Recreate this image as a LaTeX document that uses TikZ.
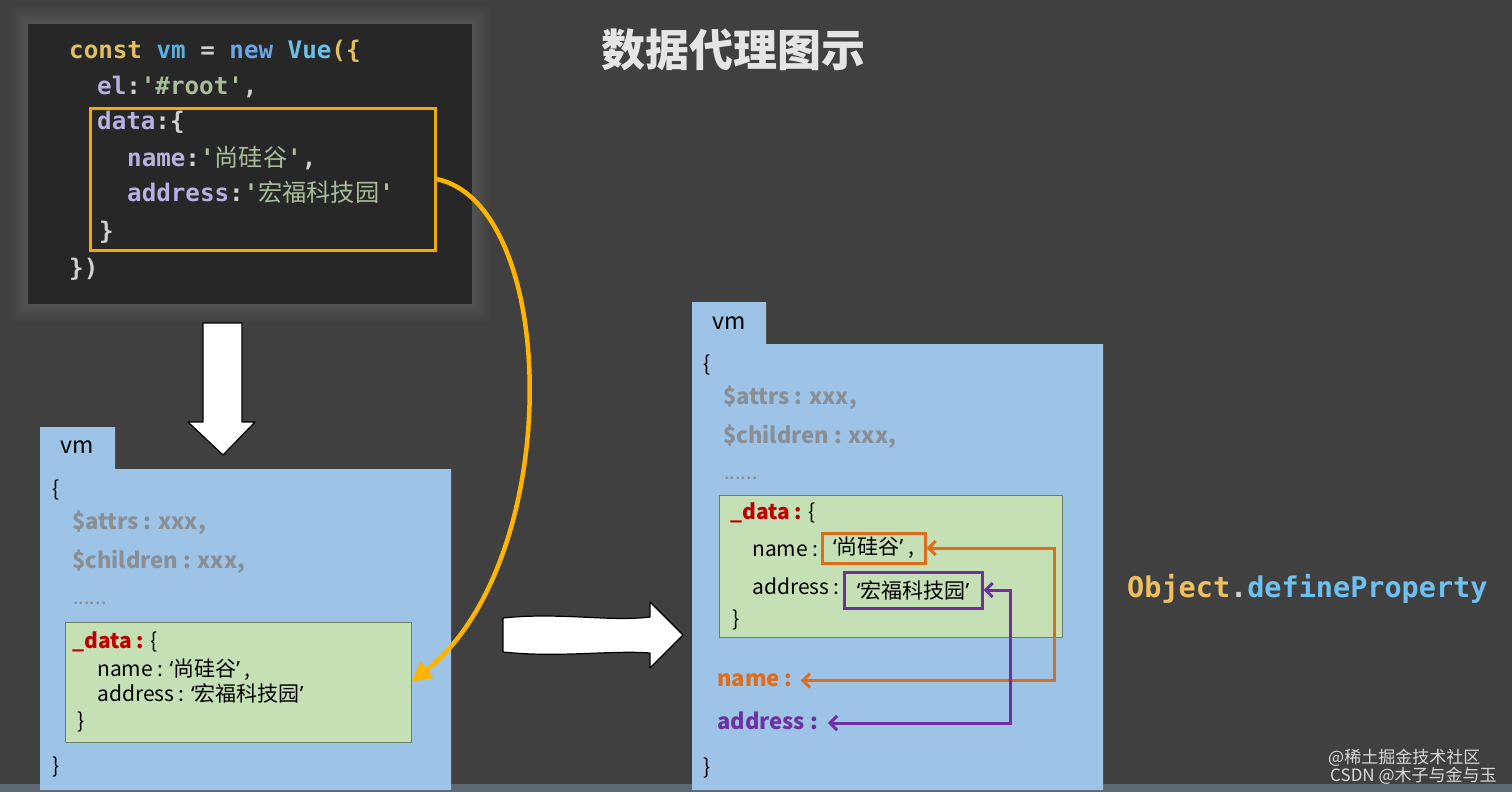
\documentclass[tikz,border=0pt]{standalone}
\usepackage{fontspec}
\setmainfont{Noto Sans CJK SC}
\newfontfamily\cjk{Noto Sans CJK SC}
\newfontfamily\monof{DejaVu Sans Mono}
\newfontfamily\nsans{Noto Sans}
\usetikzlibrary{arrows.meta}
\definecolor{bg}{HTML}{404040}
\definecolor{codebg}{HTML}{272727}
\definecolor{gold}{HTML}{F2A900}
\definecolor{yarrow}{HTML}{FFB400}
\definecolor{boxblue}{HTML}{9DC3E6}
\definecolor{boxgreen}{HTML}{C5E0B4}
\definecolor{greenedge}{HTML}{6F7F6A}
\definecolor{redc}{HTML}{C00000}
\definecolor{grayc}{HTML}{8A8F96}
\definecolor{ora}{HTML}{E06C1A}
\definecolor{pur}{HTML}{7030A0}
\definecolor{kwc}{HTML}{E0C060}
\definecolor{vmc}{HTML}{5BB0E0}
\definecolor{newc}{HTML}{6AA6E6}
\definecolor{vuec}{HTML}{6CC0E8}
\definecolor{opc}{HTML}{D0D0D0}
\definecolor{propc}{HTML}{B8B0E0}
\definecolor{strc}{HTML}{A8BE98}
\definecolor{objc}{HTML}{F0C060}
\definecolor{defc}{HTML}{6EC0F0}
\definecolor{stripc}{HTML}{5D6870}
\newcommand\oq{{\nsans ‘}}
\newcommand\cq{{\nsans ’}}
\begin{document}
\begin{tikzpicture}[x=1pt,y=-1pt,
  txt/.style={anchor=west, inner sep=0pt, text height=0.75em, text depth=0.25em, yshift=-4pt},
  codeline/.style={txt, font=\monof\bfseries\fontsize{24.2}{28}\selectfont},
  body/.style={txt, font=\fontsize{21}{25}\selectfont, text=black},
  vmlab/.style={txt, font=\fontsize{23}{27}\selectfont, text=black},
  graytxt/.style={txt, font=\bfseries\fontsize{22}{26}\selectfont, text=grayc},
  panel/.style={fill=boxblue, draw=none},
  greenbox/.style={fill=boxgreen, draw=greenedge, line width=1pt, inner sep=0pt},
  blockarrow/.style={fill=white, draw=black, line width=1.2pt, line join=round},
  barbs/.style={line width=3pt, arrows={Straight Barb[length=7pt,width=14pt]-Straight Barb[length=7pt,width=14pt]}}
]
\useasboundingbox (0,0) rectangle (1512,792);
\fill[bg] (0,0) rectangle (1512,792);
\fill[stripc] (0,784) rectangle (1512,792);

% soft glow around code box
\foreach \d in {1,...,18}
  \fill[white,opacity=0.006] (28-\d,24-\d) rectangle (472+\d,304+\d);
\node[fill=codebg, minimum width=444pt, minimum height=280pt, inner sep=0pt] (code) at (250,164) {};

% code lines
\node[codeline] (l1) at (69,52) {\color{kwc}const \color{vmc}vm \color{opc}= \color{newc}new \color{vuec}Vue\color{kwc}(\{};
\node[codeline] (l2) at (97,88) {\color{propc}el\color{opc}:\color{strc}'\#root'\color{opc},};
\node[codeline] (l3) at (97,123) {\color{propc}data\color{opc}:\{};
\node[codeline] (l4) at (127,160) {\color{propc}name\color{opc}:\color{strc}'{\cjk\mdseries 尚硅谷}'\color{opc},};
\node[codeline] (l5) at (127,195) {\color{propc}address\color{opc}:\color{strc}'{\cjk\mdseries 宏福科技园}'};
\node[codeline] (l6) at (99,233) {\color{opc}\}};
\node[codeline] (l7) at (69,270) {\color{opc}\})};
\node[draw=gold, line width=3pt, minimum width=345pt, minimum height=142pt, inner sep=0pt] (cdata) at (262.5,179) {};

% title
\node[text=white!90!black, font=\bfseries\fontsize{44}{48}\selectfont, inner sep=0pt] (title) at (733,50) {数据代理图示};

% down arrow
\draw[blockarrow] (203,323) -- (242,323) -- (242,422) -- (255,422) -- (223,455) -- (188,422) -- (203,422) -- cycle;
% right arrow
\draw[blockarrow] (503,618) .. controls (560,612) and (610,622) .. (650,617) -- (650,602) -- (683,635) -- (650,668) -- (650,653) .. controls (610,650) and (560,658) .. (503,652) -- cycle;

% left vm panel
\fill[panel] (40,427) -- (115,427) -- (115,469) -- (451,469) -- (451,790) -- (40,790) -- cycle;
\node[vmlab] (lvm) at (60,447) {vm};
\node[body] (lob) at (52,490) {\{};
\node[graytxt] (latt) at (72,523) {\$attrs : xxx,};
\node[graytxt] (lchi) at (72,562) {\$children : xxx,};
\node[graytxt, font=\fontsize{20}{24}\selectfont] (ldot) at (73,598) {......};
\node[greenbox, minimum width=346pt, minimum height=120pt] (ldata) at (238,682) {};
\node[body] (ldk) at (72,642) {\textcolor{redc}{\bfseries \_data :} \{};
\node[body] (ldn) at (97,670) {name : \oq 尚硅谷\cq\ ,};
\node[body] (lda) at (97,695) {address : \oq 宏福科技园\cq};
\node[body] (ldc) at (77,722) {\}};
\node[body] (lcb) at (52,767) {\}};

% right vm panel
\fill[panel] (692,302) -- (766,302) -- (766,344) -- (1103,344) -- (1103,790) -- (692,790) -- cycle;
\node[vmlab] (rvm) at (712,323) {vm};
\node[body] (rob) at (703,365) {\{};
\node[graytxt] (ratt) at (723,398) {\$attrs : xxx,};
\node[graytxt] (rchi) at (723,437) {\$children : xxx,};
\node[graytxt, font=\fontsize{20}{24}\selectfont] (rdot) at (724,473) {......};
\node[greenbox, minimum width=343pt, minimum height=142pt] (rdata) at (890.5,566) {};
\node[body] (rdk) at (730,513) {\textcolor{redc}{\bfseries \_data :} \{};
\node[body] (rdn) at (752,550) {name :};
\node[body] (rda) at (752,588) {address :};
\node[body] (rdc) at (732,620) {\}};
\node[draw=ora, line width=3pt, minimum width=103pt, minimum height=30pt, inner sep=0pt, font=\fontsize{21}{25}\selectfont] (rname) at (873.5,548) {\oq 尚硅谷\cq\ ,};
\node[draw=pur, line width=3pt, minimum width=138pt, minimum height=36pt, inner sep=0pt, font=\fontsize{21}{25}\selectfont] (raddr) at (913,590) {\oq 宏福科技园\cq};
\node[txt, text=ora, font=\bfseries\fontsize{22}{26}\selectfont] (nlab) at (717,680) {name :};
\node[txt, text=pur, font=\bfseries\fontsize{22}{26}\selectfont] (alab) at (717,723) {address :};
\node[body] (rcb) at (703,768) {\}};

% connectors
\draw[barbs, ora] (rname.east) -- ++(128,0) |- ([xshift=8pt,yshift=3.5pt]nlab.east);
\draw[barbs, pur] (raddr.east) -- ++(27,0) |- ([xshift=10pt,yshift=4pt]alab.east);
\draw[yarrow, line width=4.5pt, -{Triangle[length=20pt,width=20pt]}] (cdata.east) .. controls (560,205) and (565,560) .. (ldata.east);

% Object.defineProperty
\node[txt, yshift=-4pt, font=\monof\bfseries\fontsize{28.5}{32}\selectfont] (odp) at (1127,587) {\color{objc}Object\color{opc}.\color{defc}defineProperty};

% watermark
\node[txt, text=white!85!black, font=\fontsize{17}{20}\selectfont] (wm1) at (1328,757) {@稀土掘金技术社区};
\node[txt, text=white!85!black, font=\fontsize{17}{20}\selectfont] (wm2) at (1330,775) {CSDN @木子与金与玉};
\end{tikzpicture}
\end{document}
